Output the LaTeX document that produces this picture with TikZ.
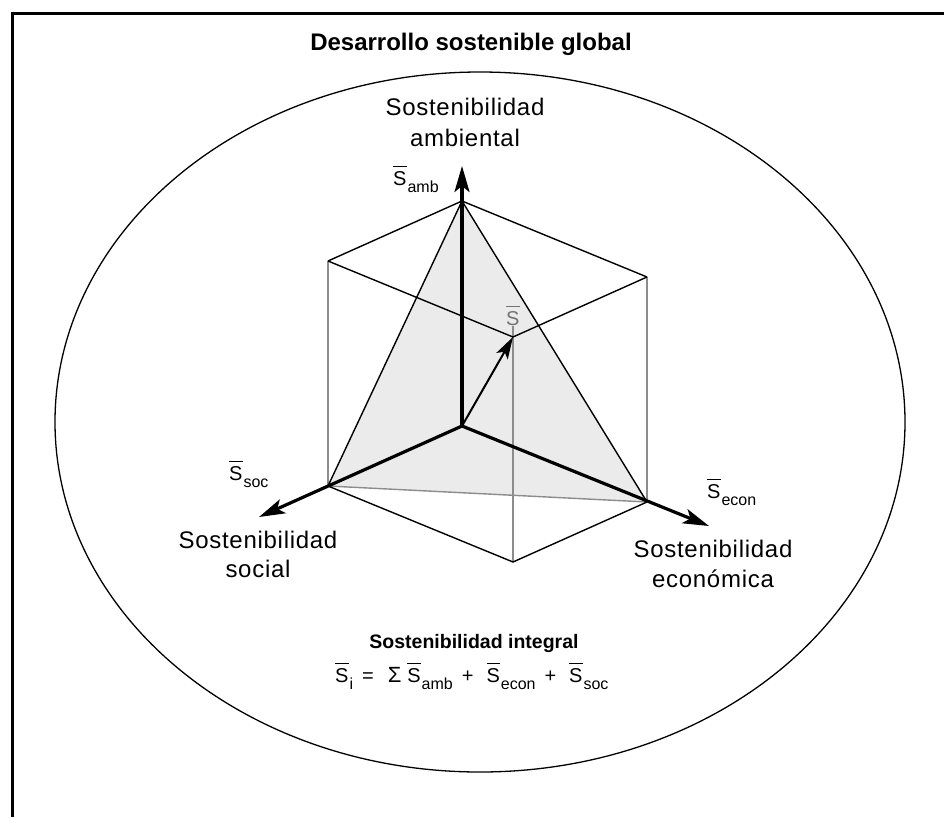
\documentclass[tikz,border=0pt]{standalone}
\usepackage{fontspec}
\setmainfont{Liberation Sans}
\newfontfamily\lblfont{Liberation Sans}[LetterSpace=3]
\usetikzlibrary{arrows.meta}

% S with a bar over it, and the same with a lowered index
\newcommand\Sbar{\leavevmode\rlap{\raisebox{\dimexpr\fontcharht\font`S+4pt\relax}{\rule{\fontcharwd\font`S}{1.1pt}}}S}
\newcommand\Ssub[1]{\Sbar\hspace{1pt}\raisebox{-7pt}{\fontsize{16}{16}\selectfont #1}}

\tikzset{
  lbl/.style={inner sep=0pt, anchor=base, font=\lblfont\fontsize{24}{24}\selectfont},
  sym/.style={inner sep=0pt, anchor=base west, font=\fontsize{20}{20}\selectfont},
  edge/.style={line width=1.4pt, black},
  hidden/.style={line width=1.4pt, black!45},
  tri/.style={fill=black!8},
  axis/.style={line width=3.2pt, -{Stealth[length=26pt,width=15pt,inset=6pt]}},
  result/.style={line width=2pt, -{Stealth[length=22pt,width=13pt,inset=5pt]}},
}

\begin{document}
\begin{tikzpicture}[x=1pt,y=-1pt]
\useasboundingbox (0,0) rectangle (944,817);

% frame (top and left sides)
\draw[line width=3pt] (12.5,817) -- (12.5,13.5) -- (944,13.5);

% outer ellipse
\draw[line width=1.3pt] (480,422) ellipse [x radius=425, y radius=350];

% cube vertices
\coordinate (T)  at (462,201);
\coordinate (O)  at (462,426);
\coordinate (TL) at (328,261);
\coordinate (BL) at (328,486);
\coordinate (F)  at (513,337);
\coordinate (B)  at (513,562);
\coordinate (TR) at (647,277);
\coordinate (BR) at (647,502);
\coordinate (Ftop) at (513,326);
% axis tips
\coordinate (ambtip)  at (462,166);
\coordinate (soctip)  at (259,517);
\coordinate (econtip) at (709,526);

% shaded triangle
\fill[tri] (T) -- (BL) -- (BR) -- cycle;

% light edges
\draw[hidden] (TL) -- (BL);
\draw[hidden] (TR) -- (BR);
\draw[hidden] (Ftop) -- (B);
\draw[hidden] (BL) -- (BR);

% dark edges
\draw[edge] (TL) -- (T) -- (TR);
\draw[edge] (TL) -- (F) -- (TR);
\draw[edge] (BL) -- (B) -- (BR);
\draw[edge] (T) -- (BL);
\draw[edge] (T) -- (BR);

% axes
\draw[axis] (O) -- (ambtip);
\draw[axis] (O) -- (soctip);
\draw[axis] (O) -- (econtip);
\draw[result] (O) -- (F);

% title
\node[inner sep=0pt, anchor=base, font=\bfseries\fontsize{24}{24}\selectfont] (title) at (471,50) {Desarrollo sostenible global};

% axis labels
\node[lbl] (amb1) at (465,115) {Sostenibilidad};
\node[lbl] (amb2) at (465,146) {ambiental};
\node[lbl] (soc1) at (258,548) {Sostenibilidad};
\node[lbl] (soc2) at (258,577) {social};
\node[lbl] (econ1) at (713,557) {Sostenibilidad};
\node[lbl] (econ2) at (713,587) {económica};

\node[sym] (Samb)  at (393,185) {\Ssub{amb}};
\node[sym] (Ssoc)  at (229,480) {\Ssub{soc}};
\node[sym] (Secon) at (707,498) {\Ssub{econ}};
\node[sym, text=black!55] (Si) at (506,325) {\Sbar};

% integral sustainability
\node[inner sep=0pt, anchor=base, font=\bfseries\fontsize{19.5}{20}\selectfont] (integral) at (474,648) {Sostenibilidad integral};
\node[sym] (formula) at (335,682) {\Ssub{i}\hspace{9pt}=\hspace{14pt}{\fontsize{22}{22}\selectfont Σ}\hspace{6pt}\Ssub{amb}\hspace{9pt}+\hspace{13pt}\Ssub{econ}\hspace{9pt}+\hspace{13pt}\Ssub{soc}};
\end{tikzpicture}
\end{document}
